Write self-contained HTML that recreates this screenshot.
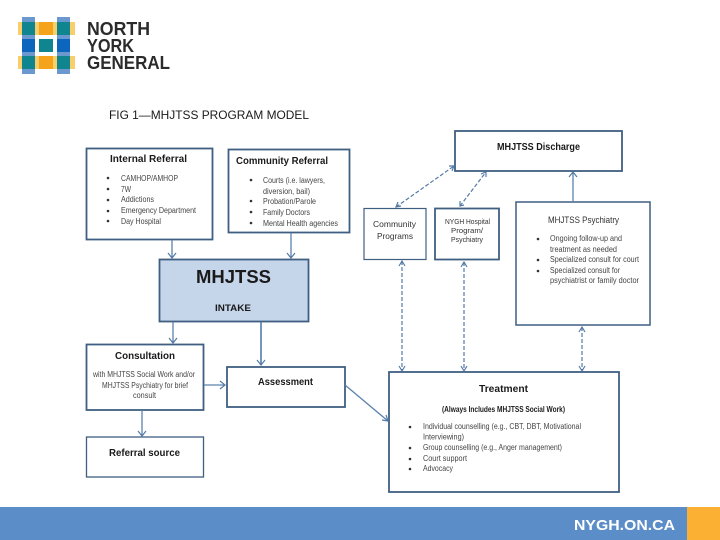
<!DOCTYPE html>
<html>
<head>
<meta charset="utf-8">
<style>
html,body{margin:0;padding:0;background:#fff;width:720px;height:540px;overflow:hidden}
svg{display:block}
text{font-family:"Liberation Sans",sans-serif;fill:#1a1a1a}
.b{font-weight:bold}
.box{fill:#fff;stroke:#3f5f82;stroke-width:1.8}
.s{font-size:8px;fill:#444}
.l{stroke:#5b82ad;stroke-width:1.3;fill:none}
.d{stroke:#557ba6;stroke-width:1.2;stroke-dasharray:4 2;fill:none}
.a{stroke:#557ba6;stroke-width:1.2;fill:none}
</style>
</head>
<body>
<svg width="720" height="540" viewBox="0 0 720 540" xmlns="http://www.w3.org/2000/svg">
<rect width="720" height="540" fill="#fff"/>

<!-- logo -->
<rect x="18" y="22" width="57" height="13" fill="#f8cf6a"/>
<rect x="18" y="56" width="57" height="13" fill="#f8cf6a"/>
<rect x="22" y="17" width="13" height="57" fill="#6c98d0"/>
<rect x="57" y="17" width="13" height="57" fill="#6c98d0"/>
<rect x="22" y="22" width="13" height="13" fill="#0f8590"/>
<rect x="57" y="22" width="13" height="13" fill="#0f8590"/>
<rect x="39" y="22" width="14" height="13" fill="#f5a31a"/>
<rect x="22" y="39" width="13" height="13" fill="#0d66bd"/>
<rect x="39" y="39" width="14" height="13" fill="#0f8590"/>
<rect x="57" y="39" width="13" height="13" fill="#0d66bd"/>
<rect x="22" y="56" width="13" height="13" fill="#0f8590"/>
<rect x="39" y="56" width="14" height="13" fill="#f5a31a"/>
<rect x="57" y="56" width="13" height="13" fill="#0f8590"/>
<text x="87" y="35" font-size="18" class="b" textLength="63" lengthAdjust="spacingAndGlyphs" style="fill:#2b2b2b">NORTH</text>
<text x="87" y="52" font-size="18" class="b" textLength="47" lengthAdjust="spacingAndGlyphs" style="fill:#2b2b2b">YORK</text>
<text x="87" y="69" font-size="18" class="b" textLength="83" lengthAdjust="spacingAndGlyphs" style="fill:#2b2b2b">GENERAL</text>

<text x="109" y="119" font-size="12" textLength="200" lengthAdjust="spacingAndGlyphs">FIG 1—MHJTSS PROGRAM MODEL</text>

<!-- boxes -->
<rect class="box" x="86.500" y="148.500" width="126" height="91"/>
<rect class="box" x="228.500" y="149.500" width="121" height="83"/>
<rect x="159.500" y="259.500" width="149" height="62" fill="#c5d5ea" stroke="#3f5f82" stroke-width="1.8"/>
<rect class="box" x="455" y="131" width="167" height="40"/>
<rect class="box" x="364" y="208.500" width="62" height="51" style="stroke-width:1.2"/>
<rect class="box" x="435" y="208.500" width="64" height="51"/>
<rect x="516" y="202" width="134" height="123" fill="#fff" stroke="#3f5f82" stroke-width="1.500"/>
<rect class="box" x="86.500" y="344.500" width="117" height="65.500"/>
<rect class="box" x="227" y="367" width="118" height="40"/>
<rect class="box" x="86.500" y="437" width="117" height="40" style="stroke-width:1.3"/>
<rect class="box" x="389" y="372" width="230" height="120"/>

<!-- solid connectors -->
<path class="l" d="M172 240V258"/><path class="a" d="M168 253l4 5 4-5"/>
<path class="l" d="M291 233V258"/><path class="a" d="M287 253l4 5 4-5"/>
<path class="l" d="M173 322V343"/><path class="a" d="M169 338l4 5 4-5"/>
<path d="M261 322V365" stroke="#4f7cab" stroke-width="1.6" fill="none"/><path class="a" d="M257 360l4 5 4-5"/>
<path class="l" d="M204 385H225"/><path class="a" d="M220 381l5 4-5 4"/>
<path class="l" d="M142 410V436"/><path class="a" d="M138 431l4 5 4-5"/>
<path class="l" d="M345 385L388 421"/><path class="a" d="M382 420l6 1-2-6"/>
<path class="l" d="M573 202V172"/><path class="a" d="M569 177l4-5 4 5"/>

<!-- dashed connectors -->
<path class="d" d="M396 207L454 166"/><path class="a" d="M401 206l-5 1 2-5M449 166l5 0-2 5"/>
<path class="d" d="M460 206L486 172"/><path class="a" d="M464 205l-4 1 0-5M481 174l5-2 0 5"/>
<path class="d" d="M402 261V371"/><path class="a" d="M399 266l3-5 3 5M399 366l3 5 3-5"/>
<path class="d" d="M464 262V371"/><path class="a" d="M461 267l3-5 3 5M461 366l3 5 3-5"/>
<path class="d" d="M582 327V371"/><path class="a" d="M579 332l3-5 3 5M579 366l3 5 3-5"/>

<!-- Internal Referral -->
<text x="110" y="162" font-size="10.500" class="b" textLength="77" lengthAdjust="spacingAndGlyphs">Internal Referral</text>
<circle cx="108" cy="178" r="1.300" fill="#333"/><text x="121" y="181" class="s" textLength="57" lengthAdjust="spacingAndGlyphs">CAMHOP/AMHOP</text>
<circle cx="108" cy="189" r="1.300" fill="#333"/><text x="121" y="192" class="s" textLength="10" lengthAdjust="spacingAndGlyphs">7W</text>
<circle cx="108" cy="200" r="1.300" fill="#333"/><text x="121" y="202" class="s" textLength="33" lengthAdjust="spacingAndGlyphs">Addictions</text>
<circle cx="108" cy="211" r="1.300" fill="#333"/><text x="121" y="213" class="s" textLength="75" lengthAdjust="spacingAndGlyphs">Emergency Department</text>
<circle cx="108" cy="221" r="1.300" fill="#333"/><text x="121" y="224" class="s" textLength="40" lengthAdjust="spacingAndGlyphs">Day Hospital</text>

<!-- Community Referral -->
<text x="236" y="164" font-size="10.500" class="b" textLength="92" lengthAdjust="spacingAndGlyphs">Community Referral</text>
<circle cx="251" cy="180" r="1.300" fill="#333"/><text x="263" y="183" class="s" textLength="62" lengthAdjust="spacingAndGlyphs">Courts (i.e. lawyers,</text>
<text x="263" y="194" class="s" textLength="47" lengthAdjust="spacingAndGlyphs">diversion, bail)</text>
<circle cx="251" cy="201" r="1.300" fill="#333"/><text x="263" y="204" class="s" textLength="53" lengthAdjust="spacingAndGlyphs">Probation/Parole</text>
<circle cx="251" cy="212" r="1.300" fill="#333"/><text x="263" y="215" class="s" textLength="47" lengthAdjust="spacingAndGlyphs">Family Doctors</text>
<circle cx="251" cy="223" r="1.300" fill="#333"/><text x="263" y="226" class="s" textLength="75" lengthAdjust="spacingAndGlyphs">Mental Health agencies</text>

<!-- MHJTSS -->
<text x="196" y="283" font-size="18" class="b" textLength="75" lengthAdjust="spacingAndGlyphs">MHJTSS</text>
<text x="215" y="311" font-size="9.500" class="b" textLength="36" lengthAdjust="spacingAndGlyphs">INTAKE</text>

<!-- Discharge -->
<text x="497" y="150" font-size="10.500" class="b" textLength="83" lengthAdjust="spacingAndGlyphs">MHJTSS Discharge</text>

<!-- Community Programs -->
<text x="373" y="227" font-size="8.500" textLength="43" lengthAdjust="spacingAndGlyphs" style="fill:#333">Community</text>
<text x="377" y="239" font-size="8.500" textLength="36" lengthAdjust="spacingAndGlyphs" style="fill:#333">Programs</text>

<!-- NYGH -->
<text x="445" y="224" font-size="7.500" textLength="45" lengthAdjust="spacingAndGlyphs" style="fill:#333">NYGH Hospital</text>
<text x="451" y="233" font-size="7.500" textLength="32" lengthAdjust="spacingAndGlyphs" style="fill:#333">Program/</text>
<text x="451" y="242" font-size="7.500" textLength="32" lengthAdjust="spacingAndGlyphs" style="fill:#333">Psychiatry</text>

<!-- Psychiatry -->
<text x="548" y="223" font-size="9" textLength="71" lengthAdjust="spacingAndGlyphs" style="fill:#333">MHJTSS Psychiatry</text>
<circle cx="538" cy="239" r="1.300" fill="#333"/><text x="550" y="241" class="s" textLength="72" lengthAdjust="spacingAndGlyphs">Ongoing follow-up and</text>
<text x="550" y="252" class="s" textLength="67" lengthAdjust="spacingAndGlyphs">treatment as needed</text>
<circle cx="538" cy="260" r="1.300" fill="#333"/><text x="550" y="262" class="s" textLength="89" lengthAdjust="spacingAndGlyphs">Specialized consult for court</text>
<circle cx="538" cy="271" r="1.300" fill="#333"/><text x="550" y="273" class="s" textLength="70" lengthAdjust="spacingAndGlyphs">Specialized consult for</text>
<text x="550" y="283" class="s" textLength="89" lengthAdjust="spacingAndGlyphs">psychiatrist or family doctor</text>

<!-- Consultation -->
<text x="115" y="359" font-size="10.500" class="b" textLength="60" lengthAdjust="spacingAndGlyphs">Consultation</text>
<text x="93" y="377" class="s" textLength="102" lengthAdjust="spacingAndGlyphs">with MHJTSS Social Work and/or</text>
<text x="102" y="388" class="s" textLength="86" lengthAdjust="spacingAndGlyphs">MHJTSS Psychiatry for brief</text>
<text x="133" y="398" class="s" textLength="23" lengthAdjust="spacingAndGlyphs">consult</text>

<!-- Assessment -->
<text x="258" y="385" font-size="10.500" class="b" textLength="55" lengthAdjust="spacingAndGlyphs">Assessment</text>

<!-- Referral source -->
<text x="109" y="456" font-size="10.500" class="b" textLength="71" lengthAdjust="spacingAndGlyphs">Referral source</text>

<!-- Treatment -->
<text x="479" y="392" font-size="10.500" class="b" textLength="49" lengthAdjust="spacingAndGlyphs">Treatment</text>
<text x="442" y="412" font-size="8.500" class="b" textLength="123" lengthAdjust="spacingAndGlyphs">(Always Includes MHJTSS Social Work)</text>
<circle cx="410" cy="427" r="1.300" fill="#333"/><text x="423" y="429" class="s" textLength="158" lengthAdjust="spacingAndGlyphs">Individual counselling (e.g., CBT, DBT, Motivational</text>
<text x="423" y="439.500" class="s" textLength="41" lengthAdjust="spacingAndGlyphs">Interviewing)</text>
<circle cx="410" cy="448" r="1.300" fill="#333"/><text x="423" y="450" class="s" textLength="139" lengthAdjust="spacingAndGlyphs">Group counselling (e.g., Anger management)</text>
<circle cx="410" cy="459" r="1.300" fill="#333"/><text x="423" y="461" class="s" textLength="44" lengthAdjust="spacingAndGlyphs">Court support</text>
<circle cx="410" cy="469" r="1.300" fill="#333"/><text x="423" y="471" class="s" textLength="30" lengthAdjust="spacingAndGlyphs">Advocacy</text>

<!-- footer -->
<rect x="0" y="507" width="687" height="33" fill="#5b8dc9"/>
<rect x="687" y="507" width="33" height="33" fill="#fbb034"/>
<text x="574" y="530" font-size="15" class="b" textLength="101" lengthAdjust="spacingAndGlyphs" style="fill:#fff">NYGH.ON.CA</text>
</svg>
</body>
</html>
